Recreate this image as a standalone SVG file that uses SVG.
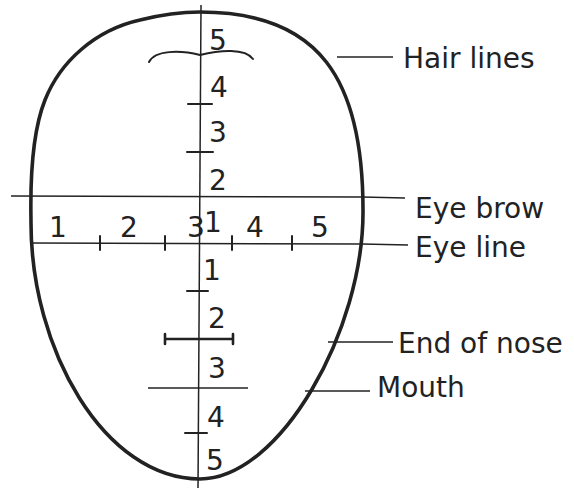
<svg xmlns="http://www.w3.org/2000/svg" width="574" height="488" viewBox="0 0 574 488">
<style>
.bg{fill:#ffffff}
.head{fill:none;stroke:#222222;stroke-width:3.6;stroke-linecap:round;stroke-linejoin:round}
.ln{fill:none;stroke:#222222;stroke-width:1.5;stroke-linecap:butt}
.tk{fill:none;stroke:#222222;stroke-width:2;stroke-linecap:round}
.bar{fill:none;stroke:#222222;stroke-width:2.6;stroke-linecap:round}
.lead{fill:none;stroke:#222222;stroke-width:1.6}
.t{font-family:"DejaVu Sans","Liberation Sans",sans-serif;font-size:28px;fill:#222222}
.n{font-family:"DejaVu Sans","Liberation Sans",sans-serif;font-size:28px;fill:#222222;text-anchor:middle}
</style>
<rect class="bg" x="0" y="0" width="574" height="488"/>
<g id="head">
<path class="head" d="M31,220 C30,170 33,130 45,100 C60,62 95,30 140,20 C160,15 180,12 200,12 C320,12 363,80 363,210 C364,330 280,479 200,479 C105,479 30,350 31,220 Z"/>
</g>
<g id="guides">
<line class="ln" x1="201" y1="5" x2="198" y2="488"/>
<line class="ln" x1="11" y1="196" x2="362" y2="197"/>
<line class="ln" x1="32" y1="243" x2="362" y2="244"/>
<path class="tk" d="M149,62 C155,50 180,50 200,55 C220,50 245,48 253,59"/>
<line class="tk" x1="188" y1="104" x2="212" y2="104"/>
<line class="tk" x1="187" y1="152" x2="213" y2="152"/>
<line class="tk" x1="100" y1="236" x2="100" y2="250"/>
<line class="tk" x1="165" y1="236" x2="165" y2="250"/>
<line class="tk" x1="232" y1="236" x2="232" y2="250"/>
<line class="tk" x1="292" y1="236" x2="292" y2="250"/>
<line class="tk" x1="187" y1="291" x2="208" y2="291"/>
<path class="bar" d="M165,339 L233,339 M165,334 L165,344 M233,334 L233,344"/>
<line class="ln" x1="148" y1="388" x2="248" y2="388"/>
<line class="tk" x1="185" y1="433" x2="207" y2="433"/>
</g>
<g id="scale-vertical">
<text class="n" x="218" y="50">5</text>
<text class="n" x="219" y="97">4</text>
<text class="n" x="218" y="142">3</text>
<text class="n" x="218" y="190">2</text>
<text class="n" x="213" y="232">1</text>
<text class="n" x="212" y="280">1</text>
<text class="n" x="217" y="328">2</text>
<text class="n" x="217" y="378">3</text>
<text class="n" x="216" y="427">4</text>
<text class="n" x="215" y="470">5</text>
</g>
<g id="scale-horizontal">
<text class="n" x="58" y="237">1</text>
<text class="n" x="129" y="237">2</text>
<text class="n" x="196" y="237">3</text>
<text class="n" x="255" y="237">4</text>
<text class="n" x="320" y="237">5</text>
</g>
<g id="connectors">
<line class="lead" x1="337" y1="57" x2="393" y2="57"/>
<line class="lead" x1="362" y1="197" x2="405" y2="198"/>
<line class="lead" x1="362" y1="244" x2="408" y2="245"/>
<line class="lead" x1="328" y1="342" x2="393" y2="342"/>
<line class="lead" x1="305" y1="391" x2="370" y2="391"/>
</g>
<g id="label-hair-lines"><text class="t" x="403" y="68">Hair lines</text></g>
<g id="label-eye-brow"><text class="t" x="415" y="218">Eye brow</text></g>
<g id="label-eye-line"><text class="t" x="415" y="257">Eye line</text></g>
<g id="label-end-of-nose"><text class="t" x="398" y="353">End of nose</text></g>
<g id="label-mouth"><text class="t" x="377" y="397">Mouth</text></g>
</svg>
